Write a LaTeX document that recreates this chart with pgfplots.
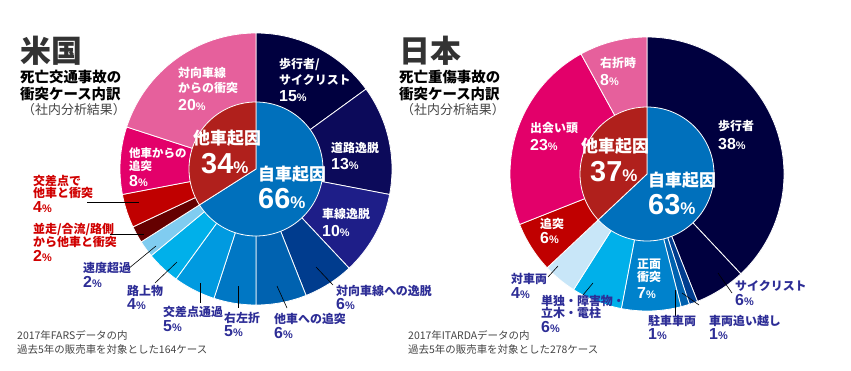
\documentclass[border=0pt]{standalone}
\usepackage{pgfplots}
\pgfplotsset{compat=1.18}
\usepackage{fontspec}
\setmainfont{Noto Sans CJK JP}
\newfontfamily\numfont{Liberation Sans}
\definecolor{cA}{HTML}{00003F}
\definecolor{cB}{HTML}{0C0A5A}
\definecolor{cC}{HTML}{1E1E88}
\definecolor{cD}{HTML}{003C8E}
\definecolor{cE}{HTML}{0062B0}
\definecolor{cF}{HTML}{0077C4}
\definecolor{cG}{HTML}{009AE0}
\definecolor{cH}{HTML}{00B0EA}
\definecolor{cI}{HTML}{80CCF0}
\definecolor{cJ}{HTML}{650000}
\definecolor{cK}{HTML}{C00000}
\definecolor{cL}{HTML}{E3006A}
\definecolor{cM}{HTML}{E6609C}
\definecolor{cN}{HTML}{0082CC}
\definecolor{cO}{HTML}{C8E6F8}
\definecolor{inblue}{HTML}{0070BC}
\definecolor{inred}{HTML}{B0201C}
\definecolor{labnavy}{HTML}{2D2D96}
\definecolor{labred}{HTML}{D00000}
\definecolor{titlegray}{HTML}{333333}
\definecolor{notegray}{HTML}{444444}

\newcommand{\resetcum}{\gdef\cum{0}}
\newcommand{\slice}[5]{%
  \pgfmathsetmacro\aA{90-3.6*\cum}%
  \pgfmathsetmacro\aB{90-3.6*(\cum+#4)}%
  \edef\temp{\noexpand\addplot[fill=#5, draw=white, line width=0.8pt, domain=\aB:\aA, samples=80] ({#1+#3*cos(x)},{#2-#3*sin(x)}) -- (axis cs:#1,#2) -- cycle;}%
  \temp
  \pgfmathsetmacro\newcum{\cum+#4}\xdef\cum{\newcum}%
}
\newcommand{\pct}[2]{{\numfont\fontsize{#1}{#1}\selectfont\bfseries #2}{\numfont\fontsize{11}{11}\selectfont\bfseries\%}}
\newcommand{\bigpct}[1]{{\numfont\fontsize{29}{29}\selectfont\bfseries #1}{\numfont\fontsize{17}{17}\selectfont\bfseries\%}}

\tikzset{lab/.style={anchor=base west, inner sep=0pt, align=left, font=\bfseries\fontsize{12}{14.5}\selectfont}}

\begin{document}
\begin{tikzpicture}
\begin{axis}[scale only axis, width=851bp, height=371bp,
  xmin=0, xmax=851, ymin=0, ymax=371, y dir=reverse,
  hide axis, clip=false]
\path (axis cs:0,0) rectangle (axis cs:851,371);

% ---------------- US ----------------
\resetcum
\slice{256}{169}{136}{15}{cA}
\slice{256}{169}{136}{13}{cB}
\slice{256}{169}{136}{10}{cC}
\slice{256}{169}{136}{6}{cD}
\slice{256}{169}{136}{6}{cE}
\slice{256}{169}{136}{5}{cF}
\slice{256}{169}{136}{5}{cG}
\slice{256}{169}{136}{4}{cH}
\slice{256}{169}{136}{2}{cI}
\slice{256}{169}{136}{2}{cJ}
\slice{256}{169}{136}{4}{cK}
\slice{256}{169}{136}{8}{cL}
\slice{256}{169}{136}{20}{cM}
\resetcum
\slice{256}{169}{67}{66}{inblue}
\slice{256}{169}{67}{34}{inred}

% leader lines
\addplot[black, line width=0.6pt] coordinates {(316,267) (333,285)};
\addplot[black, line width=0.6pt] coordinates {(277,286) (287,308)};
\addplot[black, line width=0.6pt] coordinates {(238,286) (238,308)};
\addplot[black, line width=0.6pt] coordinates {(200,283) (200,303)};
\addplot[black, line width=0.6pt] coordinates {(177,262) (155,283)};
\addplot[black, line width=0.6pt] coordinates {(156,246) (128,269)};
\addplot[black, line width=0.6pt] coordinates {(110,234) (144,234)};
\addplot[black, line width=0.6pt] coordinates {(87,202) (139,202)};

% titles
\node[anchor=base west, inner sep=0pt, text=titlegray, font=\bfseries\fontsize{31}{31}\selectfont] at (axis cs:20,62) {米国};
\node[anchor=base west, inner sep=0pt, font=\bfseries\fontsize{14.5}{17}\selectfont] at (axis cs:20,82) {死亡交通事故の};
\node[anchor=base west, inner sep=0pt, font=\bfseries\fontsize{14.5}{17}\selectfont] at (axis cs:20,99) {衝突ケース内訳};
\node[anchor=base west, inner sep=0pt, text=notegray, font=\fontsize{13}{15}\selectfont] at (axis cs:22,114) {（社内分析結果）};
\node[anchor=base west, inner sep=0pt, text=notegray, font=\fontsize{10.5}{12}\selectfont] at (axis cs:17,339) {2017年FARSデータの内};
\node[anchor=base west, inner sep=0pt, text=notegray, font=\fontsize{10.5}{12}\selectfont] at (axis cs:17,353) {過去5年の販売車を対象とした164ケース};

% labels inside (white)
\node[lab, text=white] at (axis cs:279,68) {歩行者/};
\node[lab, text=white] at (axis cs:279,84) {サイクリスト};
\node[lab, text=white] at (axis cs:279,101) {\pct{16}{15}};
\node[lab, text=white] at (axis cs:331,152) {道路逸脱};
\node[lab, text=white] at (axis cs:331,169) {\pct{16}{13}};
\node[lab, text=white] at (axis cs:322,218) {車線逸脱};
\node[lab, text=white] at (axis cs:322,236) {\pct{16}{10}};
\node[lab, text=white] at (axis cs:178,77) {対向車線};
\node[lab, text=white] at (axis cs:178,92) {からの衝突};
\node[lab, text=white] at (axis cs:178,110) {\pct{16}{20}};
\node[lab, text=white, font=\bfseries\fontsize{11.5}{12}\selectfont] at (axis cs:129,157) {他車からの};
\node[lab, text=white, font=\bfseries\fontsize{11.5}{12}\selectfont] at (axis cs:129,170) {追突};
\node[lab, text=white] at (axis cs:129,186) {\pct{16}{8}};

% labels outside
\node[lab, text=labnavy] at (axis cs:336,295) {対向車線への逸脱};
\node[lab, text=labnavy] at (axis cs:336,309) {\pct{16}{6}};
\node[lab, text=labnavy] at (axis cs:274,323) {他車への追突};
\node[lab, text=labnavy] at (axis cs:274,338) {\pct{16}{6}};
\node[lab, text=labnavy] at (axis cs:224,322) {右左折};
\node[lab, text=labnavy] at (axis cs:224,336) {\pct{16}{5}};
\node[lab, text=labnavy] at (axis cs:163,316) {交差点通過};
\node[lab, text=labnavy] at (axis cs:163,331) {\pct{16}{5}};
\node[lab, text=labnavy] at (axis cs:127,295) {路上物};
\node[lab, text=labnavy] at (axis cs:127,309) {\pct{16}{4}};
\node[lab, text=labnavy] at (axis cs:83,272) {速度超過};
\node[lab, text=labnavy] at (axis cs:83,287) {\pct{16}{2}};
\node[lab, text=labred] at (axis cs:33,233) {並走/合流/路側};
\node[lab, text=labred] at (axis cs:33,246) {から他車と衝突};
\node[lab, text=labred] at (axis cs:33,261) {\pct{16}{2}};
\node[lab, text=labred] at (axis cs:33,185) {交差点で};
\node[lab, text=labred] at (axis cs:33,197) {他車と衝突};
\node[lab, text=labred] at (axis cs:33,212) {\pct{16}{4}};

% inner labels
\node[anchor=base west, inner sep=0pt, text=white, font=\bfseries\fontsize{17}{17}\selectfont] at (axis cs:193,144) {他車起因};
\node[anchor=base west, inner sep=0pt, text=white] at (axis cs:201,173) {\bigpct{34}};
\node[anchor=base west, inner sep=0pt, text=white, font=\bfseries\fontsize{17}{17}\selectfont] at (axis cs:258,180) {自車起因};
\node[anchor=base west, inner sep=0pt, text=white] at (axis cs:258,208) {\bigpct{66}};

% ---------------- Japan ----------------
\resetcum
\slice{647}{174}{137}{38}{cA}
\slice{647}{174}{137}{6}{cA}
\slice{647}{174}{137}{1}{cD}
\slice{647}{174}{137}{1}{cE}
\slice{647}{174}{137}{7}{cN}
\slice{647}{174}{137}{6}{cH}
\slice{647}{174}{137}{4}{cO}
\slice{647}{174}{137}{6}{cK}
\slice{647}{174}{137}{23}{cL}
\slice{647}{174}{137}{8}{cM}
\resetcum
\slice{647}{174}{67}{63}{inblue}
\slice{647}{174}{67}{37}{inred}

\addplot[black, line width=0.6pt] coordinates {(718,273) (732,293)};
\addplot[black, line width=0.6pt] coordinates {(682,293) (699,305)};
\addplot[black, line width=0.6pt] coordinates {(675,290) (675,317)};
\addplot[black, line width=0.6pt] coordinates {(593,283) (583,295)};
\addplot[black, line width=0.6pt] coordinates {(558,266) (548,277)};

\node[anchor=base west, inner sep=0pt, text=titlegray, font=\bfseries\fontsize{31}{31}\selectfont] at (axis cs:399,62) {日本};
\node[anchor=base west, inner sep=0pt, font=\bfseries\fontsize{14.5}{17}\selectfont] at (axis cs:399,82) {死亡重傷事故の};
\node[anchor=base west, inner sep=0pt, font=\bfseries\fontsize{14.5}{17}\selectfont] at (axis cs:399,99) {衝突ケース内訳};
\node[anchor=base west, inner sep=0pt, text=notegray, font=\fontsize{13}{15}\selectfont] at (axis cs:401,114) {（社内分析結果）};
\node[anchor=base west, inner sep=0pt, text=notegray, font=\fontsize{10.5}{12}\selectfont] at (axis cs:408,339) {2017年ITARDAデータの内};
\node[anchor=base west, inner sep=0pt, text=notegray, font=\fontsize{10.5}{12}\selectfont] at (axis cs:408,353) {過去5年の販売車を対象とした278ケース};

\node[lab, text=white] at (axis cs:600,67) {右折時};
\node[lab, text=white] at (axis cs:600,85) {\pct{16}{8}};
\node[lab, text=white] at (axis cs:530,132) {出会い頭};
\node[lab, text=white] at (axis cs:530,150) {\pct{16}{23}};
\node[lab, text=white] at (axis cs:540,228) {追突};
\node[lab, text=white] at (axis cs:540,243) {\pct{16}{6}};
\node[lab, text=white] at (axis cs:718,130) {歩行者};
\node[lab, text=white] at (axis cs:718,149) {\pct{16}{38}};
\node[lab, text=white] at (axis cs:637,268) {正面};
\node[lab, text=white] at (axis cs:637,281) {衝突};
\node[lab, text=white] at (axis cs:637,298) {\pct{16}{7}};

\node[lab, text=labnavy] at (axis cs:735,290) {サイクリスト};
\node[lab, text=labnavy] at (axis cs:735,305) {\pct{16}{6}};
\node[lab, text=labnavy] at (axis cs:709,325) {車両追い越し};
\node[lab, text=labnavy] at (axis cs:709,339) {\pct{16}{1}};
\node[lab, text=labnavy] at (axis cs:648,325) {駐車車両};
\node[lab, text=labnavy] at (axis cs:648,339) {\pct{16}{1}};
\node[lab, text=labnavy] at (axis cs:541,305) {単独・障害物・};
\node[lab, text=labnavy] at (axis cs:541,317) {立木・電柱};
\node[lab, text=labnavy] at (axis cs:541,332) {\pct{16}{6}};
\node[lab, text=labnavy] at (axis cs:511,283) {対車両};
\node[lab, text=labnavy] at (axis cs:511,298) {\pct{16}{4}};

\node[anchor=base west, inner sep=0pt, text=white, font=\bfseries\fontsize{17}{17}\selectfont] at (axis cs:581,152) {他車起因};
\node[anchor=base west, inner sep=0pt, text=white] at (axis cs:590,181) {\bigpct{37}};
\node[anchor=base west, inner sep=0pt, text=white, font=\bfseries\fontsize{17}{17}\selectfont] at (axis cs:648,186) {自車起因};
\node[anchor=base west, inner sep=0pt, text=white] at (axis cs:648,214) {\bigpct{63}};
\end{axis}
\end{tikzpicture}
\end{document}
